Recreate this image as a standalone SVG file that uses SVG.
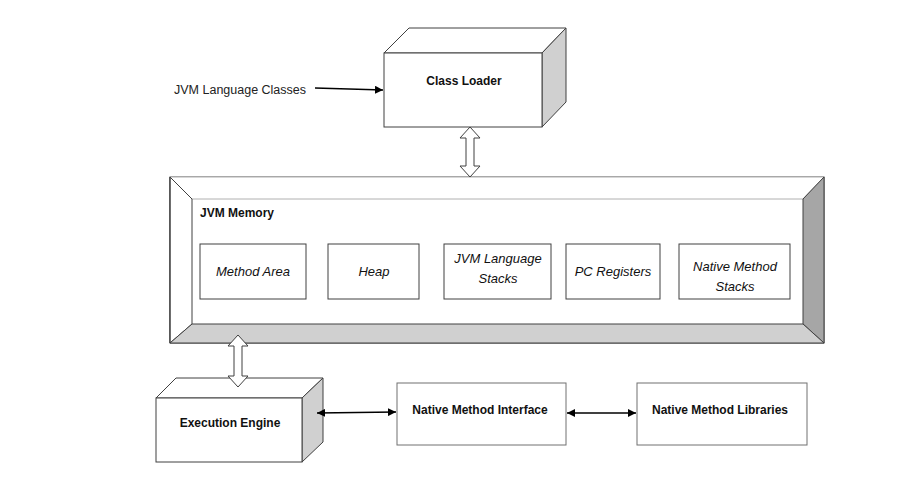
<svg xmlns="http://www.w3.org/2000/svg" width="922" height="482" viewBox="0 0 922 482">
<defs>
<style>
.box{fill:#fff;stroke:#404040;stroke-width:1}
.gbox{fill:#fff;stroke:#707070;stroke-width:1}
.side{fill:#d0d0d0;stroke:#404040;stroke-width:1}
.blk{fill:#fff;stroke:#404040;stroke-width:1}
.conn{stroke:#000;stroke-width:1.3;fill:none}
.b{font-family:"Liberation Sans",Arial,sans-serif;font-weight:bold;font-size:12px;fill:#111;text-anchor:middle}
.i{font-family:"Liberation Sans",Arial,sans-serif;font-style:italic;font-size:13px;fill:#111;text-anchor:middle}
.n{font-family:"Liberation Sans",Arial,sans-serif;font-size:12.5px;fill:#222}
</style>
<marker id="ah" viewBox="0 0 10 10" refX="10" refY="5" markerWidth="8" markerHeight="8" markerUnits="userSpaceOnUse" orient="auto-start-reverse">
<path d="M0,0 L10,5 L0,10 z" fill="#000"/>
</marker>
</defs>
<rect width="922" height="482" fill="#fff"/>

<g id="class-loader">
<polygon class="box" points="384,53 409,28 566,28 542,53"/>
<polygon class="side" points="542,53 566,28 566,102 542,127"/>
<rect class="box" x="384" y="53" width="158" height="74"/>
<text class="b" x="464" y="85">Class Loader</text>
</g>

<g id="jvm-memory">
<rect x="170" y="177" width="654" height="166" fill="#fff" stroke="#404040"/>
<polygon points="170,177 824,177 803,199 192,199" fill="#fff" stroke="#b0b0b0"/>
<polygon points="170,177 192,199 192,324 170,343" fill="#fff" stroke="#404040"/>
<polygon points="824,177 803,199 803,324 824,343" fill="#a6a6a6" stroke="#404040"/>
<polygon points="170,343 192,324 803,324 824,343" fill="#d0d0d0" stroke="#404040"/>
<line x1="170" y1="177" x2="170" y2="343" stroke="#404040"/>
<text class="b" x="200" y="217" text-anchor="start" style="text-anchor:start">JVM Memory</text>
</g>

<g id="method-area">
<rect class="box" x="200" y="244" width="106" height="55"/>
<text class="i" x="253" y="276">Method Area</text>
</g>
<g id="heap">
<rect class="box" x="328" y="244" width="91" height="55"/>
<text class="i" x="374" y="276">Heap</text>
</g>
<g id="jvm-language-stacks">
<rect class="box" x="444" y="244" width="107" height="55"/>
<text class="i" x="498" y="263">JVM Language</text>
<text class="i" x="498" y="283">Stacks</text>
</g>
<g id="pc-registers">
<rect class="box" x="566" y="244" width="94" height="55"/>
<text class="i" x="613" y="276">PC Registers</text>
</g>
<g id="native-method-stacks">
<rect class="box" x="679" y="244" width="111" height="55"/>
<text class="i" x="735" y="271">Native Method</text>
<text class="i" x="735" y="291">Stacks</text>
</g>

<g id="execution-engine">
<polygon class="box" points="156,398 176,378 323,378 302,398"/>
<polygon class="side" points="302,398 323,378 323,442 302,462"/>
<rect class="box" x="156" y="398" width="146" height="64"/>
<text class="b" x="230" y="427">Execution Engine</text>
</g>

<g id="native-method-interface">
<rect class="gbox" x="397" y="383" width="169" height="62"/>
<text class="b" x="480" y="414">Native Method Interface</text>
</g>

<g id="native-method-libraries">
<rect class="gbox" x="637" y="383" width="170" height="62"/>
<text class="b" x="720" y="414">Native Method Libraries</text>
</g>

<g id="jvm-language-classes">
<text class="n" x="174" y="94">JVM Language Classes</text>
</g>

<g id="connectors">
<line class="conn" x1="315" y1="88" x2="383" y2="90" marker-end="url(#ah)"/>
<polygon class="blk" points="470,127 480,138 474,138 474,166 480,166 470,177 460,166 466,166 466,138 460,138"/>
<polygon class="blk" points="238,335 248,346 242,346 242,376 248,376 238,387 228,376 234,376 234,346 228,346"/>
<line class="conn" x1="317" y1="413" x2="396" y2="412" marker-start="url(#ah)" marker-end="url(#ah)"/>
<line class="conn" x1="567" y1="413" x2="636" y2="413" marker-start="url(#ah)" marker-end="url(#ah)"/>
</g>
</svg>
